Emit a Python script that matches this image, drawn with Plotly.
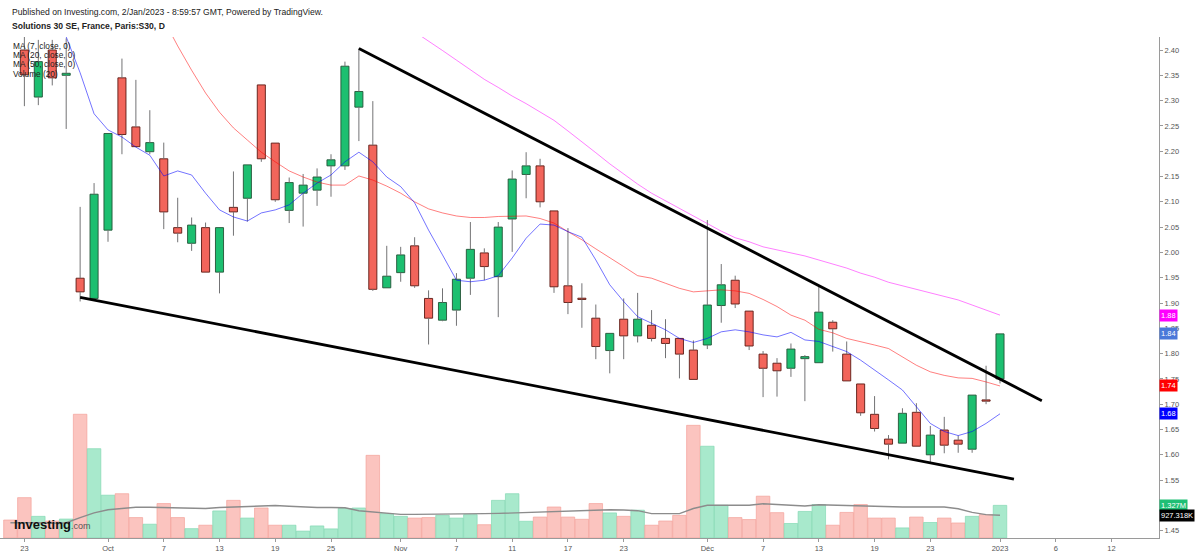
import plotly.graph_objects as go

# ---------------- data ----------------
dates = [
    "2022-09-22", "2022-09-23", "2022-09-26", "2022-09-27", "2022-09-28", "2022-09-29", "2022-09-30",
    "2022-10-03", "2022-10-04", "2022-10-05", "2022-10-06", "2022-10-07",
    "2022-10-10", "2022-10-11", "2022-10-12", "2022-10-13", "2022-10-14",
    "2022-10-17", "2022-10-18", "2022-10-19", "2022-10-20", "2022-10-21",
    "2022-10-24", "2022-10-25", "2022-10-26", "2022-10-27", "2022-10-28", "2022-10-31",
    "2022-11-01", "2022-11-02", "2022-11-03", "2022-11-04",
    "2022-11-07", "2022-11-08", "2022-11-09", "2022-11-10", "2022-11-11",
    "2022-11-14", "2022-11-15", "2022-11-16", "2022-11-17", "2022-11-18",
    "2022-11-21", "2022-11-22", "2022-11-23", "2022-11-24", "2022-11-25",
    "2022-11-28", "2022-11-29", "2022-11-30",
    "2022-12-01", "2022-12-02", "2022-12-05", "2022-12-06", "2022-12-07", "2022-12-08", "2022-12-09",
    "2022-12-12", "2022-12-13", "2022-12-14", "2022-12-15", "2022-12-16",
    "2022-12-19", "2022-12-20", "2022-12-21", "2022-12-22", "2022-12-23",
    "2022-12-27", "2022-12-28", "2022-12-29", "2022-12-30", "2023-01-02",
]
future_dates = ["2023-01-03", "2023-01-04", "2023-01-05", "2023-01-06", "2023-01-09", "2023-01-10",
                "2023-01-11", "2023-01-12", "2023-01-13", "2023-01-16", "2023-01-17"]

open_ = [2.50, 2.400, 2.307, 2.400, 2.350, 1.949, 1.909,
         2.044, 2.345, 2.248, 2.199, 2.185,
         2.049, 2.018, 2.049, 1.961, 2.089,
         2.107, 2.331, 2.216, 2.083, 2.117,
         2.123, 2.171, 2.171, 2.287, 2.212, 1.930,
         1.960, 2.013, 1.909, 1.866,
         1.886, 1.949, 1.999, 1.952, 2.066,
         2.154, 2.171, 2.082, 1.934, 1.909,
         1.870, 1.806, 1.868, 1.835, 1.856,
         1.830, 1.830, 1.807,
         1.817, 1.895, 1.945, 1.884, 1.799, 1.781, 1.771,
         1.790, 1.782, 1.862, 1.799, 1.740,
         1.680, 1.631, 1.623, 1.684, 1.600,
         1.649, 1.629, 1.611, 1.708, 1.750]
high = [2.53, 2.440, 2.420, 2.420, 2.423, 2.090, 2.137,
        2.235, 2.383, 2.341, 2.281, 2.217,
        2.108, 2.069, 2.059, 2.049, 2.160,
        2.173, 2.331, 2.216, 2.148, 2.155,
        2.166, 2.194, 2.377, 2.403, 2.299, 2.013,
        2.011, 2.030, 1.925, 1.929,
        1.959, 2.060, 2.008, 2.060, 2.162,
        2.198, 2.185, 2.082, 2.048, 1.939,
        1.897, 1.840, 1.909, 1.920, 1.886,
        1.868, 1.830, 1.826,
        2.064, 1.977, 1.954, 1.884, 1.805, 1.791, 1.820,
        1.797, 1.934, 1.866, 1.824, 1.740,
        1.716, 1.639, 1.692, 1.702, 1.657,
        1.675, 1.638, 1.718, 1.776, 1.839]
low = [2.44, 2.289, 2.291, 2.330, 2.244, 1.903, 1.909,
       2.021, 2.194, 2.209, 2.194, 2.046,
       2.020, 2.003, 1.961, 1.919, 2.033,
       2.061, 2.179, 2.100, 2.058, 2.051,
       2.092, 2.110, 2.163, 2.220, 1.924, 1.930,
       1.942, 1.930, 1.818, 1.864,
       1.855, 1.916, 1.945, 1.872, 2.001,
       2.107, 2.089, 1.920, 1.878, 1.851,
       1.789, 1.761, 1.789, 1.822, 1.824,
       1.791, 1.751, 1.749,
       1.809, 1.861, 1.890, 1.807, 1.714, 1.715, 1.754,
       1.706, 1.782, 1.804, 1.746, 1.677,
       1.646, 1.591, 1.623, 1.617, 1.585,
       1.603, 1.604, 1.604, 1.700, 1.741]
close = [2.46, 2.351, 2.377, 2.345, 2.354, 1.922, 2.115,
         2.235, 2.233, 2.209, 2.217, 2.080,
         2.038, 2.054, 1.961, 2.049, 2.080,
         2.173, 2.185, 2.104, 2.138, 2.133,
         2.149, 2.183, 2.368, 2.318, 1.927, 1.953,
         1.995, 1.934, 1.870, 1.901,
         1.947, 2.006, 1.972, 2.050, 2.145,
         2.171, 2.100, 1.932, 1.901, 1.907,
         1.814, 1.840, 1.835, 1.868, 1.830,
         1.820, 1.799, 1.749,
         1.896, 1.936, 1.898, 1.815, 1.771, 1.766, 1.809,
         1.794, 1.882, 1.849, 1.746, 1.683,
         1.652, 1.621, 1.682, 1.617, 1.639,
         1.619, 1.621, 1.718, 1.706, 1.839]

volume_m = [0.73, 1.64, 0.88, 0.69, 0.77, 5.03, 3.63,
            1.74, 1.80, 0.83, 0.56, 1.40,
            0.83, 0.38, 0.52, 1.10, 1.53,
            0.81, 1.22, 0.52, 0.52, 0.28,
            0.49, 0.37, 1.20, 1.22, 3.36, 0.99,
            0.88, 0.81, 0.83, 0.92,
            0.81, 0.95, 0.54, 1.53, 1.80,
            0.68, 0.85, 1.26, 0.85, 0.76,
            1.40, 1.02, 0.88, 1.13, 0.52,
            0.69, 0.92, 4.58,
            3.73, 1.33, 0.83, 0.75, 1.70, 1.03, 0.59,
            1.08, 1.36, 0.52, 1.04, 1.36,
            0.81, 0.81, 0.41, 0.85, 0.63,
            0.81, 0.61, 0.88, 0.95, 1.327]
volume_ma20_m = [0.62, 0.63, 0.62, 0.60, 0.62, 0.83, 1.02,
                 1.15, 1.21, 1.25, 1.25, 1.24,
                 1.23, 1.20, 1.20, 1.24, 1.26,
                 1.28, 1.31, 1.32, 1.29, 1.26,
                 1.24, 1.24, 1.23, 1.11, 1.06, 1.02,
                 0.96, 0.96, 0.96, 0.96,
                 0.98, 0.98, 0.99, 1.00, 1.02,
                 1.03, 1.06, 1.07, 1.09, 1.11,
                 1.14, 1.15, 1.14, 1.11, 0.99,
                 0.99, 0.99, 1.20,
                 1.33, 1.33, 1.33, 1.33, 1.39, 1.35, 1.31,
                 1.30, 1.35, 1.33, 1.32, 1.30,
                 1.29, 1.28, 1.26, 1.26, 1.26,
                 1.26, 1.19, 1.04, 0.95, 0.927]

ma7 = [None, None, None, 2.47, 2.426, 2.355, 2.274,
       2.242, 2.228, 2.208, 2.192, 2.151,
       2.161, 2.153, 2.117, 2.084, 2.070,
       2.062, 2.078, 2.084, 2.094, 2.117,
       2.137, 2.153, 2.179, 2.198, 2.179, 2.149,
       2.130, 2.098, 2.044, 1.995,
       1.945, 1.942, 1.945, 1.954, 1.989,
       2.028, 2.056, 2.054, 2.041, 2.030,
       1.985, 1.936, 1.903, 1.873, 1.860,
       1.847, 1.830, 1.822,
       1.830, 1.843, 1.847, 1.843, 1.837, 1.833, 1.842,
       1.827, 1.824, 1.814, 1.804, 1.787,
       1.768, 1.748, 1.728, 1.695, 1.662,
       1.646, 1.638, 1.646, 1.662, 1.681]
ma20 = [None, None, None, None, None, None, None,
        None, None, None, None, 2.46,
        2.408, 2.360, 2.315, 2.277, 2.246,
        2.222, 2.198, 2.179, 2.161, 2.149,
        2.139, 2.133, 2.133, 2.151, 2.143, 2.131,
        2.117, 2.100, 2.086, 2.078,
        2.072, 2.069, 2.069, 2.071, 2.072,
        2.072, 2.067, 2.058, 2.041, 2.025,
        2.007, 1.990, 1.972, 1.954, 1.949,
        1.939, 1.929, 1.922,
        1.924, 1.926, 1.924, 1.919, 1.907, 1.893, 1.876,
        1.866, 1.848, 1.841, 1.830, 1.824,
        1.817, 1.810, 1.794, 1.777, 1.764,
        1.757, 1.752, 1.751, 1.744, 1.736]
ma50 = [None] * 29 + [
        2.436, 2.418, 2.399,
        2.380, 2.361, 2.342, 2.326, 2.309,
        2.294, 2.278, 2.261, 2.240, 2.219,
        2.197, 2.175, 2.155, 2.135, 2.117,
        2.102, 2.086, 2.071,
        2.056, 2.042, 2.029, 2.021, 2.011, 2.005, 1.999,
        1.993, 1.985, 1.977, 1.969, 1.959,
        1.951, 1.941, 1.934, 1.928, 1.921,
        1.914, 1.906, 1.896, 1.886, 1.876]

tick_dates = ["2022-09-23", "2022-10-03", "2022-10-07", "2022-10-13", "2022-10-19", "2022-10-25",
              "2022-11-01", "2022-11-07", "2022-11-11", "2022-11-17", "2022-11-23",
              "2022-12-01", "2022-12-07", "2022-12-13", "2022-12-19", "2022-12-23",
              "2023-01-02", "2023-01-06", "2023-01-12"]
tick_labels = ["23", "Oct", "7", "13", "19", "25", "Nov", "7", "11", "17", "23",
               "Déc", "7", "13", "19", "23", "2023", "6", "12"]
price_ticks = [1.45, 1.50, 1.55, 1.60, 1.65, 1.70, 1.75, 1.80, 1.85, 1.90, 1.95,
               2.00, 2.05, 2.10, 2.15, 2.20, 2.25, 2.30, 2.35, 2.40]

upper_trend_dates = ["2022-10-27", "2023-01-05"]
upper_trend_prices = [2.403, 1.707]
lower_trend_dates = ["2022-09-29", "2023-01-03"]
lower_trend_prices = [1.911, 1.552]

last_volume_label = "1.327M"
volume_ma_label = "927.318K"

for arr in (open_, high, low, close, volume_m, volume_ma20_m, ma7, ma20, ma50):
    assert len(arr) == len(dates), len(arr)

# ---------------- helpers ----------------
axis_dates = dates + future_dates
pos = {d: i for i, d in enumerate(axis_dates)}
xs = [pos[d] for d in dates]

W, H = 1200, 554
ML, MR, MT, MB = 0, 41, 37, 16
PW, PH = W - ML - MR, H - MT - MB
SPACING = 13.9375          # px per trading day
X0_PX = 10.44              # pixel of first date
x_left = -X0_PX / SPACING
x_right = x_left + PW / SPACING
y_lo = 2.40 - (MT + PH - 50) / 506.0
y_hi = 2.40 + (50 - MT) / 506.0
vol_top = PH / 24.6


def px(xp):
    return (xp - ML) / PW


def py(yp):
    return (MT + PH - yp) / PH


UP_FILL, DN_FILL = "#1cbf70", "#f2655b"
UP_LINE, DN_LINE = "#225437", "#5b1a13"
WICK = "#737375"
is_up = [c >= o for o, c in zip(open_, close)]

fig = go.Figure()

# volume bars (base axis)
fig.add_trace(go.Bar(
    x=xs, y=volume_m, yaxis="y", width=0.97,
    marker=dict(color=["#a8e9cc" if u else "#fbc4bf" for u in is_up],
                line=dict(color=["#84d9b3" if u else "#f3a29b" for u in is_up], width=0.7)),
    hoverinfo="skip", showlegend=False))
fig.add_trace(go.Scatter(
    x=xs, y=volume_ma20_m, yaxis="y", mode="lines",
    line=dict(color="#8c8c8c", width=1.4), hoverinfo="skip", showlegend=False))

# candle bodies
bases = [min(o, c) for o, c in zip(open_, close)]
heights = [max(abs(c - o), 0.0025) for o, c in zip(open_, close)]
fig.add_trace(go.Bar(
    x=xs, y=heights, base=bases, yaxis="y2", width=0.58,
    marker=dict(color=[UP_FILL if u else DN_FILL for u in is_up],
                line=dict(color=[UP_LINE if u else DN_LINE for u in is_up], width=0.9)),
    hoverinfo="skip", showlegend=False))

# wicks
wx, wy = [], []
for x, o, h, l, c in zip(xs, open_, high, low, close):
    top, bot = max(o, c), min(o, c)
    wx += [x, x, None, x, x, None]
    wy += [h, top, None, bot, l, None]
fig.add_trace(go.Scatter(x=wx, y=wy, yaxis="y2", mode="lines",
                         line=dict(color=WICK, width=1), hoverinfo="skip", showlegend=False))

# moving averages
for vals, col in ((ma50, "rgba(255,0,255,0.5)"), (ma20, "rgba(255,0,0,0.5)"), (ma7, "rgba(0,0,255,0.55)")):
    fig.add_trace(go.Scatter(x=xs, y=vals, yaxis="y2", mode="lines",
                             line=dict(color=col, width=1), connectgaps=False,
                             hoverinfo="skip", showlegend=False))

# trend lines
for td, tp in ((upper_trend_dates, upper_trend_prices), (lower_trend_dates, lower_trend_prices)):
    fig.add_trace(go.Scatter(x=[pos[d] for d in td], y=tp, yaxis="y2", mode="lines",
                             line=dict(color="#000000", width=2.8), hoverinfo="skip", showlegend=False))

FONT = "Liberation Sans, Arial, sans-serif"
ann = []
ann.append(dict(text="Published on Investing.com, 2/Jan/2023 - 8:59:57 GMT, Powered by TradingView.",
                xref="paper", yref="paper", x=px(10), y=py(12), xanchor="left", yanchor="middle",
                showarrow=False, font=dict(family=FONT, size=8.6, color="#222")))
ann.append(dict(text="<b>Solutions 30 SE, France, Paris:S30, D</b>",
                xref="paper", yref="paper", x=px(10), y=py(26), xanchor="left", yanchor="middle",
                showarrow=False, font=dict(family=FONT, size=8.6, color="#222")))
for k, t in enumerate(["MA (7, close, 0)", "MA (20, close, 0)", "MA (50, close, 0)", "Volume (20)"]):
    ann.append(dict(text=t, xref="paper", yref="paper", x=px(11), y=py(46 + 9.2 * k),
                    xanchor="left", yanchor="middle", showarrow=False,
                    font=dict(family=FONT, size=8.3, color="#222")))
ann.append(dict(text="<b>Investing</b><span style='font-size:9px;color:#555'>.com</span>",
                xref="paper", yref="paper", x=px(12), y=py(524), xanchor="left", yanchor="middle",
                showarrow=False, font=dict(family=FONT, size=13, color="#111")))

# right-side value labels
for val, col in ((ma50[-1], "#ff00ff"), (close[-1], "#4a78d9"), (ma20[-1], "#ff0000"), (ma7[-1], "#0000ff")):
    ann.append(dict(text=f"{val:.2f}", xref="paper", yref="y2", x=1.0, y=val,
                    xanchor="left", yanchor="middle", showarrow=False, bgcolor=col, borderpad=1,
                    font=dict(family=FONT, size=7.5, color="#ffffff")))
ann.append(dict(text=last_volume_label, xref="paper", yref="y", x=1.0, y=volume_m[-1],
                xanchor="left", yanchor="middle", showarrow=False, bgcolor="#1fbf75", borderpad=1,
                font=dict(family=FONT, size=7.5, color="#ffffff")))
ann.append(dict(text=volume_ma_label, xref="paper", yref="y", x=1.0, y=volume_ma20_m[-1],
                xanchor="left", yanchor="middle", showarrow=False, bgcolor="#000000", borderpad=1,
                font=dict(family=FONT, size=7.5, color="#ffffff")))

fig.update_layout(
    width=W, height=H, margin=dict(l=ML, r=MR, t=MT, b=MB),
    paper_bgcolor="white", plot_bgcolor="white",
    barmode="overlay", showlegend=False,
    font=dict(family=FONT, size=7.5, color="#555"),
    xaxis=dict(range=[x_left, x_right], tickmode="array",
               tickvals=[pos[d] for d in tick_dates], ticktext=tick_labels,
               showgrid=False, zeroline=False, showline=True, linecolor="#9a9a9a", linewidth=1,
               ticks="outside", ticklen=3, tickcolor="#9a9a9a",
               tickfont=dict(family=FONT, size=7.5, color="#555")),
    yaxis=dict(range=[0, vol_top], visible=False, fixedrange=True),
    yaxis2=dict(range=[y_lo, y_hi], overlaying="y", side="right", anchor="x",
                tickmode="array", tickvals=price_ticks, ticktext=[f"{v:.2f}" for v in price_ticks],
                showgrid=False, zeroline=False, showline=True, linecolor="#9a9a9a", linewidth=1,
                ticks="outside", ticklen=3, tickcolor="#9a9a9a",
                tickfont=dict(family=FONT, size=7.5, color="#555")),
    annotations=ann,
)

fig.write_html("out.html")
